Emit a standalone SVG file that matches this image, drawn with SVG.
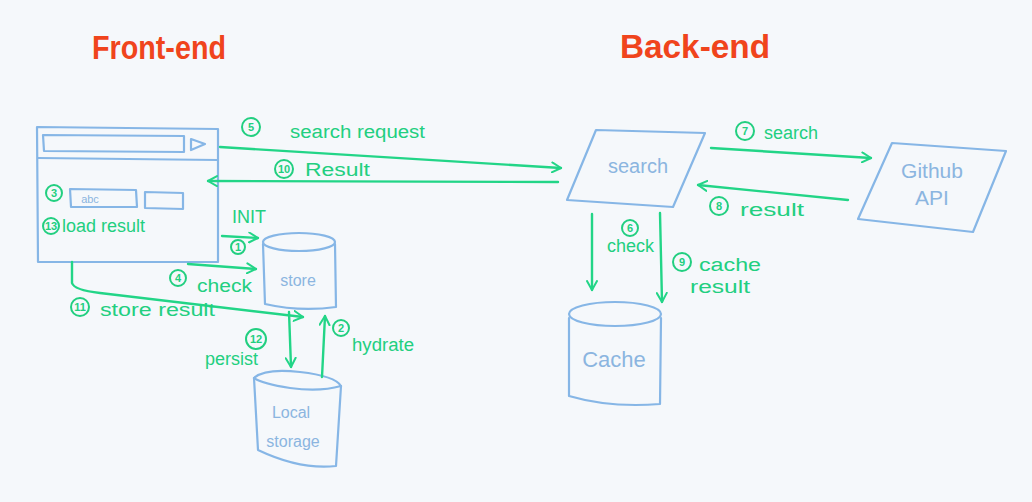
<svg xmlns="http://www.w3.org/2000/svg" width="1032" height="502" viewBox="0 0 1032 502">
<defs>
<style>
.bg{fill:#f5f8fb}
.title{font-family:"Liberation Sans",Arial,sans-serif;font-size:34px;fill:#f0441c;font-weight:bold}
.node{fill:none;stroke:#86b6e6;stroke-width:2.2;stroke-linecap:round;stroke-linejoin:round}
.ntext{font-family:"Liberation Sans",Arial,sans-serif;fill:#8bb5e0;text-anchor:middle}
.edge{fill:none;stroke:#22d587;stroke-width:2.4;stroke-linecap:round;stroke-linejoin:round}
.lbl{font-family:"Liberation Sans",Arial,sans-serif;font-size:18px;fill:#22cf80}
.num{fill:none;stroke:#22cf80;stroke-width:2}
.numt{font-family:"Liberation Sans",Arial,sans-serif;font-size:11px;font-weight:bold;fill:#22cf80;text-anchor:middle}
</style>
<marker id="ah" viewBox="0 0 12 12" refX="10" refY="6" markerWidth="12" markerHeight="12" markerUnits="userSpaceOnUse" orient="auto">
<path d="M1,1 L10,6 L1,11" fill="none" stroke="#22d587" stroke-width="2" stroke-linecap="round" stroke-linejoin="round"/>
</marker>
</defs>
<rect class="bg" x="0" y="0" width="1032" height="502"/>

<g id="titles">
<text class="title" x="92" y="59" font-size="32" textLength="134" lengthAdjust="spacingAndGlyphs">Front-end</text>
<text class="title" x="620" y="58" textLength="150" lengthAdjust="spacingAndGlyphs">Back-end</text>
</g>

<g id="browser">
<path class="node" d="M37,127 L218,129 L218,262 L38,262 Z"/>
<path class="node" d="M43,135 L184,136 L184,152 L44,151 Z"/>
<path class="node" d="M191,139 L205,144 L191,150 Z"/>
<path class="node" d="M38,158 L218,160"/>
<path class="node" d="M70,189 L136,190 L137,207 L71,207 Z"/>
<text class="ntext" x="90" y="203" font-size="11">abc</text>
<path class="node" d="M145,192 L183,193 L183,209 L145,208 Z"/>
<circle class="num" cx="54" cy="193" r="8"/>
<text class="numt" x="54" y="197">3</text>
<circle class="num" cx="51" cy="226" r="8"/>
<text class="numt" x="51" y="230">13</text>
<text class="lbl" x="62" y="232" font-size="17">load result</text>
</g>

<g id="search">
<path class="node" d="M596,130 L705,133 L673,207 L567,200 Z"/>
<text class="ntext" x="638" y="173" font-size="20">search</text>
</g>

<g id="github-api">
<path class="node" d="M892,143 L1006,151 L973,232 L858,219 Z"/>
<text class="ntext" x="932" y="178" font-size="21">Github</text>
<text class="ntext" x="932" y="205" font-size="21">API</text>
</g>

<g id="cache">
<path class="node" d="M569,318 L569,396 Q610,408 660,404 L661,318"/>
<ellipse class="node" cx="615" cy="314" rx="46" ry="12"/>
<text class="ntext" x="614" y="367" font-size="22">Cache</text>
</g>

<g id="store">
<path class="node" d="M263,244 L265,304 Q300,312 336,307 L335,244"/>
<ellipse class="node" cx="299" cy="242" rx="36" ry="9"/>
<text class="ntext" x="298" y="286" font-size="16">store</text>
</g>

<g id="local-storage">
<path class="node" d="M254,378 L258,450 Q300,470 336,466 L341,386"/>
<path class="node" d="M254,378 Q265,368 300,372 Q335,376 341,386 Q320,392 290,388 Q262,384 254,378 Z"/>
<text class="ntext" x="291" y="418" font-size="16">Local</text>
<text class="ntext" x="293" y="447" font-size="16">storage</text>
</g>

<g id="connectors">
<path class="edge" d="M220,147 L561,168" marker-end="url(#ah)"/>
<circle class="num" cx="251" cy="127" r="9"/>
<text class="numt" x="251" y="131">5</text>
<text class="lbl" x="290" y="138" textLength="135" lengthAdjust="spacingAndGlyphs">search request</text>

<path class="edge" d="M558,182 L208,181" marker-end="url(#ah)"/>
<circle class="num" cx="284" cy="169" r="9"/>
<text class="numt" x="284" y="173">10</text>
<text class="lbl" x="305" y="176" textLength="65" lengthAdjust="spacingAndGlyphs">Result</text>

<path class="edge" d="M711,148 L871,158" marker-end="url(#ah)"/>
<circle class="num" cx="745" cy="131" r="9"/>
<text class="numt" x="745" y="135">7</text>
<text class="lbl" x="764" y="139">search</text>

<path class="edge" d="M848,200 L698,185" marker-end="url(#ah)"/>
<circle class="num" cx="719" cy="206" r="9"/>
<text class="numt" x="719" y="210">8</text>
<text class="lbl" x="740" y="216" textLength="64" lengthAdjust="spacingAndGlyphs">result</text>

<path class="edge" d="M592,214 L592,290" marker-end="url(#ah)"/>
<circle class="num" cx="630" cy="228" r="8"/>
<text class="numt" x="630" y="232">6</text>
<text class="lbl" x="607" y="252" font-size="15">check</text>

<path class="edge" d="M660,213 L662,302" marker-end="url(#ah)"/>
<circle class="num" cx="682" cy="262" r="9"/>
<text class="numt" x="682" y="266">9</text>
<text class="lbl" x="699" y="271" textLength="62" lengthAdjust="spacingAndGlyphs">cache</text>
<text class="lbl" x="690" y="293" textLength="60" lengthAdjust="spacingAndGlyphs">result</text>

<path class="edge" d="M222,236 L258,238" marker-end="url(#ah)"/>
<text class="lbl" x="232" y="223" font-size="14">INIT</text>
<circle class="num" cx="238" cy="247" r="7"/>
<text class="numt" x="238" y="251">1</text>

<path class="edge" d="M188,264 L256,269" marker-end="url(#ah)"/>
<circle class="num" cx="178" cy="278" r="8"/>
<text class="numt" x="178" y="282">4</text>
<text class="lbl" x="197" y="292" textLength="55" lengthAdjust="spacingAndGlyphs">check</text>

<path class="edge" d="M72,262 L72,283 Q74,290 100,293 L303,317" marker-end="url(#ah)"/>
<circle class="num" cx="80" cy="307" r="9"/>
<text class="numt" x="80" y="311">11</text>
<text class="lbl" x="100" y="316" textLength="115" lengthAdjust="spacingAndGlyphs">store result</text>

<path class="edge" d="M289,312 L291,367" marker-end="url(#ah)"/>
<circle class="num" cx="256" cy="339" r="10"/>
<text class="numt" x="256" y="343">12</text>
<text class="lbl" x="205" y="365" font-size="14">persist</text>

<path class="edge" d="M322,377 L325,316" marker-end="url(#ah)"/>
<circle class="num" cx="341" cy="328" r="8"/>
<text class="numt" x="341" y="332">2</text>
<text class="lbl" x="352" y="351" textLength="62" lengthAdjust="spacingAndGlyphs">hydrate</text>
</g>
</svg>
